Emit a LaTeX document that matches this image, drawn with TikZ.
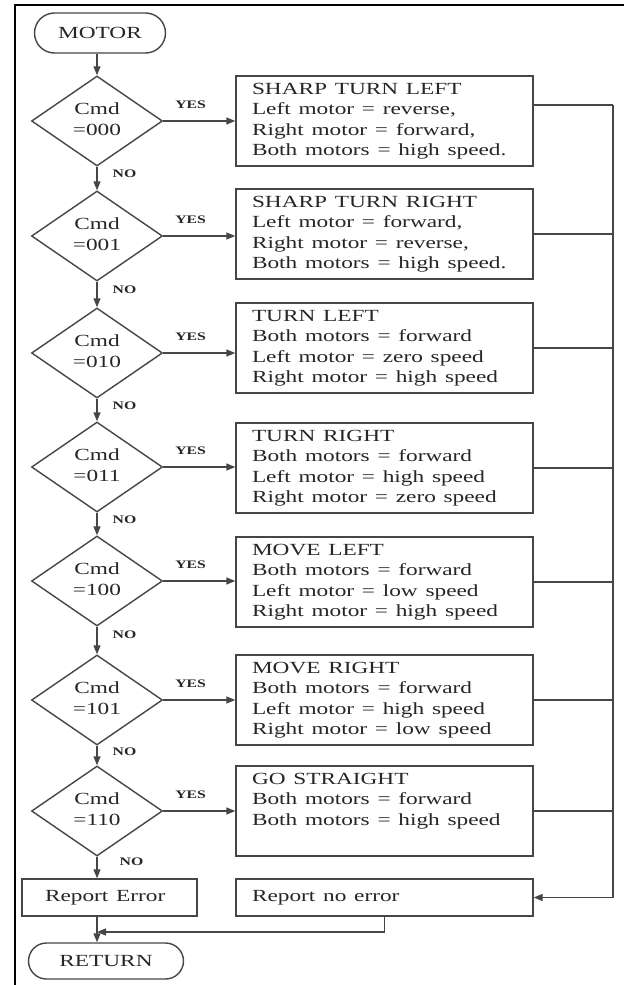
\documentclass[tikz,border=0pt]{standalone}
\usepackage{fontspec}
\setmainfont{Liberation Serif}
\usepackage{graphicx}
\usetikzlibrary{shapes.geometric,shapes.misc,arrows.meta,calc}
\definecolor{ln}{RGB}{70,70,70}
\newcommand{\sx}[1]{\scalebox{1.37}[1]{#1}}
\newcommand{\boxlines}[1]{\sx{\begin{tabular}{@{}l@{}}#1\end{tabular}}}
\newcommand{\cmdtext}[1]{\sx{\begin{tabular}{@{}c@{}}Cmd\\=#1\end{tabular}}}
\begin{document}
\begin{tikzpicture}[x=1pt,y=-1pt,
  every node/.style={font=\fontsize{17}{20.3}\selectfont, text=black!85},
  line/.style={draw=ln, line width=1.4pt},
  arr/.style={line, -{Triangle[length=9pt,width=7pt]}},
  dec/.style={diamond, line, inner sep=0pt, minimum width=131pt, minimum height=90pt, aspect=1.45},
  actbox/.style={rectangle, line, minimum height=90pt, text width=265pt, inner xsep=16pt, inner ysep=0pt, align=left},
  term/.style={rounded rectangle, line, inner sep=0pt},
  lab/.style={font=\fontsize{11.5}{13}\selectfont\bfseries, inner sep=0pt},
]
\useasboundingbox (0,0) rectangle (624,985);
\fill[white] (0,0) rectangle (624,985);
\draw[black, line width=1.3pt] (15,985) -- (15,5) -- (624,5);

\node[term, minimum width=131pt, minimum height=40pt] (motor) at (100,33) {\sx{MOTOR}};

\node[dec] (d1) at (97,121) {\cmdtext{000}};
\node[dec] (d2) at (97,236) {\cmdtext{001}};
\node[dec] (d3) at (97,353) {\cmdtext{010}};
\node[dec] (d4) at (97,467) {\cmdtext{011}};
\node[dec] (d5) at (97,581) {\cmdtext{100}};
\node[dec] (d6) at (97,700) {\cmdtext{101}};
\node[dec] (d7) at (97,811) {\cmdtext{110}};

\node[actbox] (b1) at (384.5,121) {\boxlines{SHARP TURN LEFT\\Left motor = reverse,\\Right motor = forward,\\Both motors = high speed.}};
\node[actbox] (b2) at (384.5,234) {\boxlines{SHARP TURN RIGHT\\Left motor = forward,\\Right motor = reverse,\\Both motors = high speed.}};
\node[actbox] (b3) at (384.5,348) {\boxlines{TURN LEFT\\Both motors = forward\\Left motor = zero speed\\Right motor = high speed}};
\node[actbox] (b4) at (384.5,468) {\boxlines{TURN RIGHT\\Both motors = forward\\Left motor = high speed\\Right motor = zero speed}};
\node[actbox] (b5) at (384.5,582) {\boxlines{MOVE LEFT\\Both motors = forward\\Left motor = low speed\\Right motor = high speed}};
\node[actbox] (b6) at (384.5,700) {\boxlines{MOVE RIGHT\\Both motors = forward\\Left motor = high speed\\Right motor = low speed}};
\node[actbox] (b7) at (384.5,811) {\boxlines{GO STRAIGHT\\Both motors = forward\\Both motors = high speed\\ \mbox{}}};

\node[rectangle, line, minimum width=175pt, minimum height=37pt, text width=129pt, inner xsep=23pt, inner ysep=0pt, align=left] (rerr) at (109.5,897.5) {\boxlines{Report Error}};
\node[actbox, minimum height=37pt] (rne) at (384.5,897.5) {\boxlines{Report no error}};
\node[term, minimum width=155pt, minimum height=36pt] (ret) at (106,961) {\sx{RETURN}};

\coordinate (bt) at (613,105);
\coordinate (bb) at (613,897.5);
\coordinate (j) at (97,932);

% main chain
\draw[arr] (motor.south -| d1.north) -- (d1.north);
\foreach \a/\b in {d1/d2,d2/d3,d3/d4,d4/d5,d5/d6,d6/d7}{
  \draw[arr] (\a.south) -- node[lab, pos=0.3, anchor=west, xshift=15pt]{\sx{NO}} (\b.north);
}
\draw[arr] (d7.south) -- node[lab, pos=0.25, anchor=west, xshift=22pt]{\sx{NO}} (d7.south |- rerr.north);
\draw[arr] (rerr.south -| d7.south) -- (ret.north -| d7.south);

% yes branches
\foreach \i in {1,...,7}{
  \draw[arr] (d\i.east) -- node[lab, pos=0.38, above=12pt]{\sx{YES}} (d\i.east -| b\i.west);
}

% right bus
\draw[line] ([yshift=16pt]b1.east) -- (bt);
\foreach \i in {2,...,7}{
  \draw[line] (b\i.east) -- (b\i.east -| bt);
}
\draw[arr] (bt) -- (bb) -- (rne.east);
\draw[arr] (rne.south) |- (j);
\end{tikzpicture}
\end{document}
